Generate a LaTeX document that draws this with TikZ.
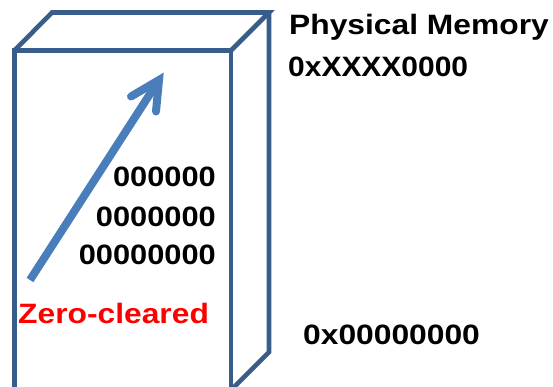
\documentclass[tikz,border=0pt]{standalone}
\usepackage{fontspec}
\setmainfont{Liberation Sans}
\newfontfamily\labfont{Liberation Sans}[FakeStretch=1.135]
\newfontfamily\labfontb{Liberation Sans}[FakeStretch=1.10]
\newfontfamily\labfontc{Liberation Sans}[FakeStretch=1.07]
\definecolor{edgeblue}{RGB}{56,93,138}
\definecolor{arrowblue}{RGB}{74,126,187}
\definecolor{redtxt}{RGB}{255,0,0}
\tikzset{
  boxline/.style={draw=edgeblue, line width=4.6pt, line join=miter},
  arrowline/.style={draw=arrowblue, line width=8pt, line cap=round, line join=miter},
  lbl/.style={inner sep=0pt, font=\labfont\bfseries\fontsize{28}{32}\selectfont},
}
\begin{document}
\begin{tikzpicture}[x=1pt,y=-1pt]
\useasboundingbox (0,0) rectangle (553,387);
\clip (0,0) rectangle (553,387);
% box corners
\coordinate (fbl) at (14.5,395);
\coordinate (ftl) at (14.5,50.5);
\coordinate (ftr) at (231,50.5);
\coordinate (fbr) at (231,395);
\coordinate (btl) at (52,12.5);
\coordinate (btr) at (269,12.5);
\coordinate (bbr) at (269,352);
\coordinate (rbe) at (223,398);
% front face
\draw[boxline] (fbl) -- (ftl) -- (ftr) -- (fbr);
% top face
\draw[boxline] (ftl) -- (btl) -- (btr) -- (ftr);
% right face
\draw[boxline] (btr) -- (bbr) -- (rbe);
% arrow
\coordinate (tail) at (30,280);
\coordinate (tip) at (159,80);
\coordinate (wingA) at (131,96.5);
\coordinate (wingB) at (156,111.5);
\draw[arrowline, line cap=butt] (tail) -- (tip);
\draw[arrowline] (wingA) -- (tip) -- (wingB);
% texts
\node[lbl, anchor=base west] (pm) at (289,35) {Physical Memory};
\node[lbl, anchor=base west, font=\labfontc\bfseries\fontsize{28}{32}\selectfont] (top) at (288,77) {0xXXXX0000};
\node[lbl, anchor=base west] (bot) at (303,344) {0x00000000};
\node[lbl, anchor=base east, font=\labfontb\bfseries\fontsize{28}{32}\selectfont] (z1) at (216,187) {000000};
\node[lbl, anchor=base east, font=\labfontb\bfseries\fontsize{28}{32}\selectfont] (z2) at (216,226) {0000000};
\node[lbl, anchor=base east, font=\labfontb\bfseries\fontsize{28}{32}\selectfont] (z3) at (216,264) {00000000};
\node[lbl, anchor=base west, text=redtxt] (zc) at (18,323) {Zero-cleared};
\end{tikzpicture}
\end{document}
